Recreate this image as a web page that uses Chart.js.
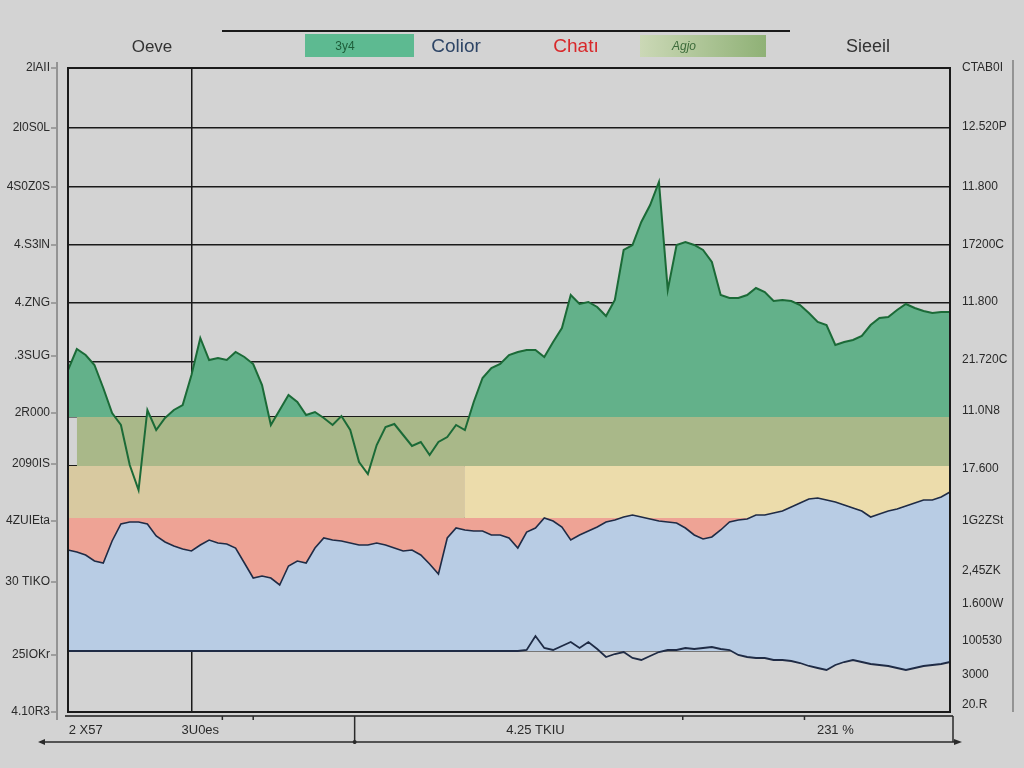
<!DOCTYPE html>
<html>
<head>
<meta charset="utf-8">
<script src="https://cdn.jsdelivr.net/npm/chart.js@4.4.1/dist/chart.umd.min.js"></script>
<style>
  html, body { margin: 0; padding: 0; background: #d3d3d3; }
  #wrap { width: 1024px; height: 768px; position: relative; }
</style>
</head>
<body>
<div id="wrap"><canvas id="c" width="1024" height="768"></canvas></div>
<script>
// ---- data (value units of the chart's own axis, 0..644) ----
const categories = Array.from({ length: 101 }, (_, i) => String(i));

const greenSeries = [342,363,357,347,324,299,287,247,222,302,282,294,302,307,337,374,352,354,352,360,
  355,348,327,287,302,317,310,297,300,294,287,296,282,250,238,267,285,288,277,266,
  270,257,270,275,287,282,310,334,344,348,357,360,362,362,355,370,384,417,408,410,
  405,396,412,462,467,490,507,530,422,467,470,467,462,450,417,414,414,417,424,420,
  411,412,411,407,399,390,387,367,370,372,376,387,394,395,402,408,404,401,399,400,400];

const blueSeries = [162,160,157,151,149,171,188,190,190,188,176,170,166,163,161,167,172,169,168,164,
  149,134,136,134,127,146,151,149,164,174,172,171,169,167,167,169,167,164,161,162,
  157,148,138,174,184,182,181,181,177,177,174,164,180,184,194,191,185,172,177,181,
  185,190,192,195,197,195,193,191,190,189,184,177,173,175,182,190,192,193,197,197,
  199,201,205,209,213,214,212,210,207,204,201,195,198,201,203,206,209,212,212,215,220];

const lowerSeries = [61,61,61,61,61,61,61,61,61,61,61,61,61,61,61,61,61,61,61,61,
  61,61,61,61,61,61,61,61,61,61,61,61,61,61,61,61,61,61,61,61,
  61,61,61,61,61,61,61,61,61,61,61,61,62,76,64,62,66,70,64,70,
  63,55,58,60,54,52,56,60,62,62,64,63,64,65,63,62,57,55,54,54,
  52,52,51,49,46,44,42,47,50,52,50,48,47,46,44,42,44,46,47,48,50];

// lower edge of the blue area (flat rule on the left, following the line on the right)
const blueBottom = [61,61,61,61,61,61,61,61,61,61,61,61,61,61,61,61,61,61,61,61,
  61,61,61,61,61,61,61,61,61,61,61,61,61,61,61,61,61,61,61,61,
  61,61,61,61,61,61,61,61,61,61,61,61,61,61,61,61,61,61,61,61,
  61,61,61,61,61,61,61,61,61,61,61,61,61,61,61,61,57,55,54,54,
  52,52,51,49,46,44,42,47,50,52,50,48,47,46,44,42,44,46,47,48,50];

// horizontal bands: [fromIndex, toIndex, topValue, bottomValue]
const oliveBand = [1, 100, 295, 246];
const tanBand = [0, 45, 246, 194];
const yellowBand = [45, 100, 246, 194];
const greenBase = 295;
const redBase = 194;

// tick labels
const leftTickValues = [644, 584, 525, 467, 409, 356, 299, 248, 191, 130, 57, 0];
const leftTickLabels = ["2lAII", "2l0S0L", "4S0Z0S", "4.S3lN", "4.ZNG", ".3SUG", "2R000", "2090IS", "4ZUIEta", "30 TIKO", "25IOKr", "4.10R3"];
const rightTickValues = [644, 585, 525, 467, 410, 352, 301, 243, 191, 141, 108, 71, 37, 7];
const rightTickLabels = ["CTAB0I", "12.520P", "11.800", "17200C", "11.800", "21.720C", "11.0N8", "17.600", "1G2ZSt", "2,45ZK", "1.600W", "100530", "3000", "20.R"];
const gridValues = [584, 525, 467, 409, 350, 295, 246, 194, 141, 61];
const xTickIndex = [2, 15, 53, 87];
const xTickLabels = ["2 X57", "3U0es", "4.25 TKIU", "231 %"];
const xGridIndex = 14;

const legendTexts = ["Oeve", "3y4", "Colior", "Chatı", "Agjo", "Sieeil"];

// ---- helpers ----
function bandData(b) {
  return categories.map((_, i) => (i >= b[0] && i <= b[1]) ? b[2] : null);
}

const FONT = "'Liberation Sans', Arial, sans-serif";

const decor = {
  id: 'decor',
  afterDraw(chart) {
    const ctx = chart.ctx;
    const a = chart.chartArea;
    ctx.save();
    ctx.strokeStyle = '#1a1a1a';
    ctx.lineWidth = 2;
    ctx.strokeRect(a.left, a.top, a.right - a.left, a.bottom - a.top);
    ctx.lineWidth = 1.5;
    ctx.beginPath();
    ctx.moveTo(a.left - 3, a.bottom + 4); ctx.lineTo(a.right + 3, a.bottom + 4);
    ctx.stroke();
    ctx.strokeStyle = '#6a6a6a';
    ctx.lineWidth = 1.2;
    ctx.beginPath();
    ctx.moveTo(a.left - 11, a.top - 6); ctx.lineTo(a.left - 11, a.bottom + 8);
    const ys = chart.scales.y;
    leftTickValues.forEach(v => {
      const p = ys.getPixelForValue(v);
      ctx.moveTo(a.left - 17, p); ctx.lineTo(a.left - 12, p);
    });
    ctx.stroke();
    ctx.beginPath();
    ctx.moveTo(a.right + 63, a.top - 8); ctx.lineTo(a.right + 63, a.bottom);
    ctx.stroke();
    ctx.strokeStyle = '#2a2a2a';
    ctx.lineWidth = 1.5;
    ctx.beginPath();
    ctx.moveTo(a.left - 28, a.bottom + 30); ctx.lineTo(a.right + 8, a.bottom + 30);
    ctx.moveTo(a.right + 3, a.bottom + 4); ctx.lineTo(a.right + 3, a.bottom + 30);
    const xs = chart.scales.x;
    const px = xs.getPixelForValue(32.5);
    ctx.moveTo(px, a.bottom + 4); ctx.lineTo(px, a.bottom + 32);
    [17.5, 21, 69.7, 83.5].forEach(i => {
      const q = xs.getPixelForValue(i);
      ctx.moveTo(q, a.bottom + 4); ctx.lineTo(q, a.bottom + 8);
    });
    ctx.stroke();
    ctx.fillStyle = '#2a2a2a';
    ctx.beginPath();
    ctx.moveTo(a.right + 12, a.bottom + 30); ctx.lineTo(a.right + 4, a.bottom + 27); ctx.lineTo(a.right + 4, a.bottom + 33);
    ctx.closePath(); ctx.fill();
    ctx.beginPath();
    ctx.moveTo(a.left - 30, a.bottom + 30); ctx.lineTo(a.left - 23, a.bottom + 27); ctx.lineTo(a.left - 23, a.bottom + 33);
    ctx.closePath(); ctx.fill();
    ctx.beginPath();
    ctx.arc(px, a.bottom + 30, 2, 0, Math.PI * 2); ctx.fill();

    ctx.strokeStyle = '#1a1a1a';
    ctx.lineWidth = 2;
    ctx.beginPath();
    ctx.moveTo(222, 31); ctx.lineTo(790, 31);
    ctx.stroke();

    ctx.textBaseline = 'middle';
    ctx.textAlign = 'center';
    ctx.fillStyle = '#5dba91';
    ctx.fillRect(305, 34, 109, 23);
    const g = ctx.createLinearGradient(640, 0, 766, 0);
    g.addColorStop(0, '#cbd8b6');
    g.addColorStop(1, '#8fb176');
    ctx.fillStyle = g;
    ctx.fillRect(640, 35, 126, 22);

    ctx.font = '17px ' + FONT;
    ctx.fillStyle = '#333';
    ctx.fillText(legendTexts[0], 152, 47);
    ctx.font = '12px ' + FONT;
    ctx.fillStyle = '#1e5e3a';
    ctx.fillText(legendTexts[1], 345, 47);
    ctx.font = '19px ' + FONT;
    ctx.fillStyle = '#2e4566';
    ctx.fillText(legendTexts[2], 456, 47);
    ctx.fillStyle = '#d8282a';
    ctx.fillText(legendTexts[3], 576, 47);
    ctx.font = 'italic 12px ' + FONT;
    ctx.fillStyle = '#3c6b3a';
    ctx.fillText(legendTexts[4], 684, 47);
    ctx.font = '18px ' + FONT;
    ctx.fillStyle = '#333';
    ctx.fillText(legendTexts[5], 868, 47);
    ctx.restore();
  }
};

new Chart(document.getElementById('c'), {
  type: 'line',
  data: {
    labels: categories,
    datasets: [
      {
        label: 'lower', data: lowerSeries, borderColor: '#1f2b45', borderWidth: 1.8,
        pointRadius: 0, tension: 0, fill: false
      },
      {
        label: 'green', data: greenSeries, borderColor: '#1b6a37', borderWidth: 2,
        pointRadius: 0, tension: 0,
        fill: { target: { value: greenBase }, above: '#63b18a', below: 'rgba(0,0,0,0)' }
      },
      {
        label: 'blue', data: blueSeries, borderColor: '#1f2b45', borderWidth: 1.6,
        pointRadius: 0, tension: 0,
        fill: { target: 3, above: '#b8cce4', below: '#b8cce4' }
      },
      {
        label: 'blueBottom', data: blueBottom, borderColor: 'rgba(0,0,0,0)', borderWidth: 0,
        pointRadius: 0, tension: 0, fill: false
      },
      {
        label: 'red', data: blueSeries, borderColor: 'rgba(0,0,0,0)', borderWidth: 0,
        pointRadius: 0, tension: 0,
        fill: { target: { value: redBase }, above: 'rgba(0,0,0,0)', below: '#eea395' }
      },
      {
        label: 'yellow', data: bandData(yellowBand), borderWidth: 0, borderColor: 'rgba(0,0,0,0)',
        pointRadius: 0, fill: { target: { value: yellowBand[3] }, above: '#ecdcab', below: '#ecdcab' }
      },
      {
        label: 'tan', data: bandData(tanBand), borderWidth: 0, borderColor: 'rgba(0,0,0,0)',
        pointRadius: 0, fill: { target: { value: tanBand[3] }, above: '#d8c9a0', below: '#d8c9a0' }
      },
      {
        label: 'olive', data: bandData(oliveBand), borderWidth: 0, borderColor: 'rgba(0,0,0,0)',
        pointRadius: 0, fill: { target: { value: oliveBand[3] }, above: '#a9b889', below: '#a9b889' }
      }
    ]
  },
  options: {
    responsive: false,
    animation: false,
    devicePixelRatio: 1,
    layout: { padding: { top: 68, left: 0, right: 0, bottom: 0 } },
    plugins: { legend: { display: false }, tooltip: { enabled: false }, title: { display: false } },
    scales: {
      x: {
        type: 'category',
        z: 1,
        offset: false,
        afterFit(s) { s.height = 56; },
        border: { display: false },
        grid: {
          drawTicks: false,
          color: (c) => c.index === xGridIndex ? '#1a1a1a' : 'rgba(0,0,0,0)',
          lineWidth: 1.5
        },
        ticks: {
          autoSkip: false, maxRotation: 0, minRotation: 0, padding: 11,
          color: '#2a2a2a', font: { family: FONT, size: 13 },
          callback: (v, i) => { const k = xTickIndex.indexOf(i); return k >= 0 ? xTickLabels[k] : ''; }
        }
      },
      y: {
        position: 'left', min: 0, max: 644,
        afterFit(s) { s.width = 68; },
        afterBuildTicks(s) { s.ticks = leftTickValues.map(v => ({ value: v })); },
        border: { display: false },
        grid: { drawOnChartArea: false, drawTicks: false },
        ticks: {
          padding: 18, color: '#2a2a2a', font: { family: FONT, size: 12 },
          callback: (v) => { const k = leftTickValues.indexOf(v); return k >= 0 ? leftTickLabels[k] : ''; }
        }
      },
      yg: {
        position: 'left', min: 0, max: 644, z: 1,
        afterFit(s) { s.width = 0; },
        afterBuildTicks(s) { s.ticks = gridValues.map(v => ({ value: v })); },
        border: { display: false },
        grid: { color: '#1a1a1a', lineWidth: 1.5, drawTicks: false },
        ticks: { display: false }
      },
      yr: {
        position: 'right', min: 0, max: 644,
        afterFit(s) { s.width = 74; },
        afterBuildTicks(s) { s.ticks = rightTickValues.map(v => ({ value: v })); },
        border: { display: false },
        grid: { drawOnChartArea: false, drawTicks: false },
        ticks: {
          padding: 12, color: '#2a2a2a', font: { family: FONT, size: 12 },
          callback: (v) => { const k = rightTickValues.indexOf(v); return k >= 0 ? rightTickLabels[k] : ''; }
        }
      }
    }
  },
  plugins: [decor]
});
</script>
</body>
</html>
